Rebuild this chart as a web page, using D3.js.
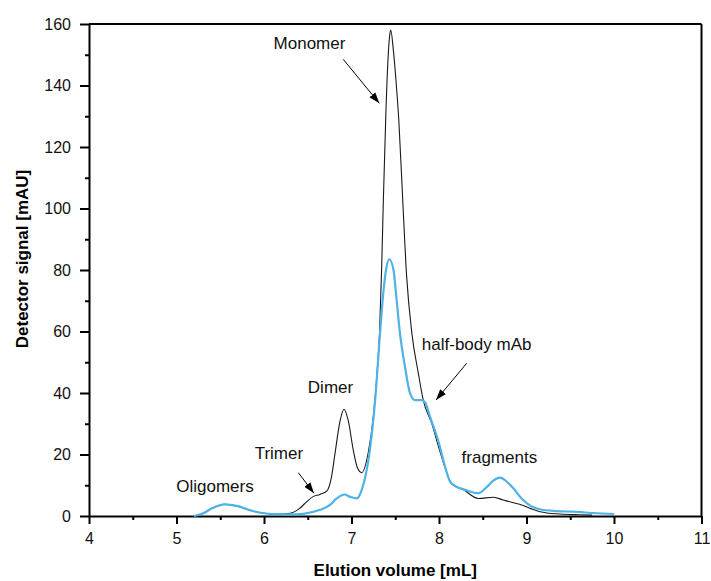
<!DOCTYPE html>
<html>
<head>
<meta charset="utf-8">
<script src="https://cdn.jsdelivr.net/npm/d3@7"></script>
<style>
  body { margin: 0; background: #fff; }
  svg { font-family: Arial, "Liberation Sans", sans-serif; }
</style>
</head>
<body>
<div id="chart"></div>
<script>
// chromatogram data
var blackX = [5.2, 5.3, 5.4, 5.55, 5.7, 5.85, 6.0, 6.15, 6.3, 6.4, 6.49, 6.56, 6.64, 6.72, 6.77, 6.81, 6.87, 6.914, 6.963, 7.02, 7.07, 7.117, 7.19, 7.25, 7.28, 7.32, 7.345, 7.364, 7.394, 7.42, 7.435, 7.448, 7.48, 7.51, 7.54, 7.585, 7.63, 7.69, 7.764, 7.82, 7.917, 8.0, 8.06, 8.13, 8.2, 8.28, 8.45, 8.62, 8.735, 8.85, 8.945, 9.05, 9.154, 9.38, 9.6, 9.75];
var blackY = [0, 0.8, 2.4, 3.8, 3.2, 1.8, 0.9, 0.6, 0.9, 2.3, 4.7, 6.3, 7.0, 8.2, 12.5, 20, 31, 34.7, 31, 21.5, 15.5, 14.1, 20.4, 32.3, 42, 59.4, 81, 102.8, 132, 150, 156, 158, 151, 141, 129, 103, 78, 59.4, 46.4, 37.7, 30.1, 22, 16.5, 11.2, 9.5, 8.5, 5.7, 6.1, 5.2, 4.3, 3.6, 2.4, 1.4, 0.65, 0.4, 0.3];

var blueX = [5.2, 5.3, 5.4, 5.55, 5.7, 5.85, 6.0, 6.15, 6.3, 6.45, 6.64, 6.75, 6.83, 6.92, 6.98, 7.06, 7.117, 7.21, 7.27, 7.326, 7.363, 7.40, 7.432, 7.48, 7.516, 7.554, 7.611, 7.669, 7.726, 7.80, 7.84, 7.897, 8.0, 8.06, 8.126, 8.2, 8.3, 8.45, 8.55, 8.62, 8.697, 8.77, 8.85, 8.95, 9.05, 9.15, 9.34, 9.53, 9.8, 10.0];
var blueY = [0, 0.8, 2.4, 3.8, 3.2, 1.8, 0.9, 0.6, 0.5, 0.7, 2.0, 3.5, 5.7, 7.0, 6.3, 5.7, 8.5, 21.5, 37.7, 59.4, 72.4, 81, 83.5, 80, 70.2, 59.4, 48.6, 39.9, 37.7, 37.7, 37, 32.3, 23.6, 17, 11.2, 9.5, 8.5, 7.4, 9.5, 11.5, 12.5, 11.3, 9, 5.5, 3.2, 2.2, 1.6, 1.4, 0.9, 0.65];

var xTicks = [4, 5, 6, 7, 8, 9, 10, 11];
var yTicks = [0, 20, 40, 60, 80, 100, 120, 140, 160];

// peak labels: text, x, y (data units)
var labelText = ['Monomer', 'Dimer', 'Trimer', 'Oligomers', 'half-body mAb', 'fragments'];
var labelX = [6.52, 6.76, 6.17, 5.44, 8.43, 8.69];
var labelY = [151.8, 39.9, 18.4, 7.8, 54, 17.1];

// arrows: start x/y, end x/y (data units)
var arrowX1 = [6.906, 6.392, 8.317];
var arrowY1 = [148.5, 14.1, 49.7];
var arrowX2 = [7.318, 6.571, 7.966];
var arrowY2 = [134.2, 7.4, 37.7];

var width = 711;
var height = 581;
var plotLeft = 89, plotRight = 701.5, plotTop = 24, plotBottom = 516;
var blue = '#4cb2e8';

var svg = d3.select('#chart')
  .append('svg')
  .attr('width', width)
  .attr('height', height);

var x = d3.scaleLinear().domain([4, 11]).range([plotLeft, plotRight]);
var y = d3.scaleLinear().domain([0, 160]).range([plotBottom, plotTop]);

svg.append('defs').append('marker')
  .attr('id', 'arrowhead')
  .attr('viewBox', '0 -4 11 8')
  .attr('refX', 11)
  .attr('refY', 0)
  .attr('markerUnits', 'userSpaceOnUse')
  .attr('markerWidth', 11)
  .attr('markerHeight', 8)
  .attr('orient', 'auto')
  .append('path')
  .attr('d', 'M0,-3.8 L11,0 L0,3.8 Z')
  .attr('fill', '#000');

// frame (top + right)
svg.append('line')
  .attr('x1', plotLeft).attr('x2', plotRight)
  .attr('y1', plotTop).attr('y2', plotTop)
  .attr('stroke', '#000').attr('stroke-width', 2);
svg.append('line')
  .attr('x1', plotRight).attr('x2', plotRight)
  .attr('y1', plotTop).attr('y2', plotBottom)
  .attr('stroke', '#000').attr('stroke-width', 2);

// minor ticks
svg.append('g')
  .attr('transform', 'translate(0,' + plotBottom + ')')
  .call(d3.axisBottom(x).tickValues(d3.range(4.5, 11, 1)).tickSize(4).tickFormat(''))
  .call(function (g) { g.select('.domain').remove(); })
  .selectAll('line').attr('stroke-width', 2);
svg.append('g')
  .attr('transform', 'translate(' + plotLeft + ',0)')
  .call(d3.axisLeft(y).tickValues(d3.range(10, 160, 20)).tickSize(4).tickFormat(''))
  .call(function (g) { g.select('.domain').remove(); })
  .selectAll('line').attr('stroke-width', 2);

// main axes
var xAxis = svg.append('g')
  .attr('transform', 'translate(0,' + plotBottom + ')')
  .call(d3.axisBottom(x).tickValues(xTicks).tickSize(8).tickPadding(9).tickSizeOuter(0).tickFormat(d3.format('d')));
var yAxis = svg.append('g')
  .attr('transform', 'translate(' + plotLeft + ',0)')
  .call(d3.axisLeft(y).tickValues(yTicks).tickSize(9).tickPadding(9).tickSizeOuter(0));

[xAxis, yAxis].forEach(function (a) {
  a.attr('font-size', 16).attr('font-family', null);
  a.select('.domain').attr('stroke-width', 2);
  a.selectAll('line').attr('stroke-width', 2);
  a.selectAll('text').attr('fill', '#111');
});

// curves
var line = d3.line()
  .x(function (d) { return x(d[0]); })
  .y(function (d) { return y(d[1]); })
  .curve(d3.curveMonotoneX);

svg.append('path')
  .datum(d3.zip(blackX, blackY))
  .attr('d', line)
  .attr('fill', 'none')
  .attr('stroke', '#1a1a1a')
  .attr('stroke-width', 1.1);

svg.append('path')
  .datum(d3.zip(blueX, blueY))
  .attr('d', line)
  .attr('fill', 'none')
  .attr('stroke', blue)
  .attr('stroke-width', 2.2);

// annotations
svg.selectAll('.arrow')
  .data(d3.range(arrowX1.length))
  .enter()
  .append('line')
  .attr('class', 'arrow')
  .attr('x1', function (i) { return x(arrowX1[i]); })
  .attr('y1', function (i) { return y(arrowY1[i]); })
  .attr('x2', function (i) { return x(arrowX2[i]); })
  .attr('y2', function (i) { return y(arrowY2[i]); })
  .attr('stroke', '#000')
  .attr('stroke-width', 1)
  .attr('marker-end', 'url(#arrowhead)');

svg.selectAll('.peaklabel')
  .data(labelText)
  .enter()
  .append('text')
  .attr('class', 'peaklabel')
  .attr('x', function (d, i) { return x(labelX[i]); })
  .attr('y', function (d, i) { return y(labelY[i]); })
  .attr('text-anchor', 'middle')
  .attr('font-size', 17)
  .attr('fill', '#111')
  .text(function (d) { return d; });

// axis titles
svg.append('text')
  .attr('x', (plotLeft + plotRight) / 2)
  .attr('y', 576)
  .attr('text-anchor', 'middle')
  .attr('font-size', 17)
  .attr('font-weight', 'bold')
  .text('Elution volume [mL]');

svg.append('text')
  .attr('transform', 'translate(28,259) rotate(-90)')
  .attr('text-anchor', 'middle')
  .attr('font-size', 17)
  .attr('font-weight', 'bold')
  .text('Detector signal [mAU]');
</script>
</body>
</html>
